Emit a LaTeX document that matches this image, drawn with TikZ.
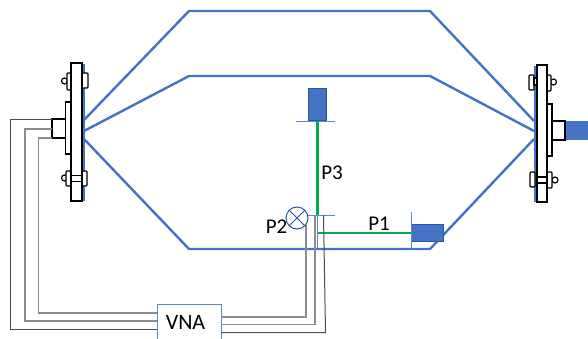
\documentclass[tikz,border=0pt]{standalone}
\usepackage{fontspec}
\setmainfont{Carlito}
\definecolor{hull}{HTML}{4472C4}
\definecolor{hulldark}{HTML}{2F5597}
\definecolor{probe}{HTML}{00B050}
\tikzset{
  hullline/.style={draw=hull,line width=2.4pt,line join=miter},
  thinblue/.style={draw=hull!85!white,line width=0.7pt},
  part/.style={draw=black,fill=white,line width=1.2pt},
  bolt/.style={part,rounded corners=1pt},
  solidblock/.style={fill=hull,draw=hulldark,line width=1.2pt},
  probeline/.style={draw=probe,line width=2.4pt},
  cable/.style={draw=black!70,line width=1pt},
  cablegray/.style={draw=black!45,line width=1.2pt},
  lbl/.style={font=\fontsize{21}{23}\selectfont,text=black,inner sep=0pt},
  valve/.style={draw=hulldark,line width=1pt}
}
\begin{document}
\begin{tikzpicture}[x=1pt,y=-1pt]
\useasboundingbox (0,0) rectangle (588,338);
\clip (0,0) rectangle (588,338);
% hull corners
\coordinate (a1) at (84,120); \coordinate (a2) at (189,11); \coordinate (a3) at (430,11); \coordinate (a4) at (534,121);
\coordinate (b1) at (84,131); \coordinate (b2) at (189,76); \coordinate (b3) at (430,76); \coordinate (b4) at (534,131);
\coordinate (c1) at (84,139); \coordinate (c2) at (189,249); \coordinate (c3) at (430,249); \coordinate (c4) at (534,139);
\draw[hullline] (a1)--(a2)--(a3)--(a4);
\draw[hullline] (b1)--(b2)--(b3)--(b4);
\draw[hullline] (c1)--(c2)--(c3)--(c4);
% blue faces
\coordinate (lf1) at (84,64); \coordinate (lf2) at (84,201);
\coordinate (rf1) at (535,66); \coordinate (rf2) at (535,202);
\draw[hull,line width=1.8pt] (lf1)--(lf2);
\draw[hull,line width=2.4pt] (rf1)--(rf2);
% left flange
\draw[bolt] (82,73) rectangle (88,88);
\draw[bolt] (82,171) rectangle (87,186);
\draw[part] (64.5,81) circle[radius=3pt];
\draw[part] (64.5,178) circle[radius=3pt];
\draw[bolt] (67,73) rectangle (71,90);
\draw[bolt] (66,171) rectangle (71,186);
\draw[part] (71,63) rectangle (82,201);
\draw[part] (71,175.5) rectangle (82,181.5);
\draw[part] (65.5,102) rectangle (71,154);
\draw[part] (52,119) rectangle (65.5,138);
% right flange
\draw[solidblock,draw=hull] (565,122) rectangle (589,139);
\draw[bolt] (529,75) rectangle (534,90);
\draw[bolt] (530,172) rectangle (535,187);
\draw[part] (553.5,82) circle[radius=3pt];
\draw[part] (555,180) circle[radius=3pt];
\draw[bolt] (547,75) rectangle (551,91);
\draw[bolt] (547,172) rectangle (552,188);
\draw[part] (534,78) rectangle (537,85);
\draw[part] (537,65) rectangle (547,202);
\draw[part] (537,177) rectangle (547,183);
\draw[part] (547,104) rectangle (552,156);
\draw[part] (552,121) rectangle (565,140);
% VNA
\node[draw=hull!85!white,fill=white,line width=0.8pt,minimum width=64pt,minimum height=36pt,inner sep=0pt,anchor=north west] (vna) at (157,304) {};
\node[lbl,font=\fontsize{22}{24}\selectfont] (vnat) at (185.5,322) {VNA};
% left cables
\coordinate (l1) at (52,119); \coordinate (l2) at (52,129); \coordinate (l3) at (52,138);
\draw[cable] (l1)--(10.5,119)--(10.5,329)--(157,329);
\draw[cablegray] (l2)--(25,129)--(25,321)--(157,321);
\draw[cablegray] (l3)--(38.5,138)--(38.5,313)--(157,313);
% probes
\node[solidblock,anchor=north west,minimum width=18pt,minimum height=32pt,inner sep=0pt] (p3) at (308,88) {};
\node[solidblock,anchor=north west,minimum width=32pt,minimum height=17pt,inner sep=0pt] (p1) at (411,224) {};
\coordinate (t3l) at (296,121); \coordinate (t3r) at (335,121);
\draw[thinblue] (t3l)--(t3r);
\coordinate (j) at (p3.south |- 0,215); \coordinate (j2) at (318,0 |- p1.west);
\draw[probeline] (p3.south)--(j);
\draw[probeline] (j2)--(p1.west);
\coordinate (t1l) at (302,215); \coordinate (t1r) at (335,215);
\coordinate (t1b) at (317,249);
\draw[thinblue] (t1l)--(t1r);
\draw[thinblue] (317,215)--(t1b);
\coordinate (t2a) at (411,212); \coordinate (t2b) at (411,249);
\draw[thinblue] (t2a)--(t2b);
% right cables
\draw[cablegray] (221,317)--(306,317)--(306,225);
\draw[cablegray] (221,324.5)--(315,324.5)--(315,215);
\draw[cable] (221,332.5)--(325.5,332.5)--(323.5,215);
% valve
\node[draw=hulldark,line width=1pt,circle,fill=white,minimum size=22pt,inner sep=0pt] (v) at (297,218) {};
\draw[valve] (v.north west)--(v.south east);
\draw[valve] (v.north east)--(v.south west);
% labels
\node[lbl] (lp3) at (332,173) {P3};
\node[lbl] (lp2) at (276.5,227) {P2};
\node[lbl] (lp1) at (379,224) {P1};
\end{tikzpicture}
\end{document}
